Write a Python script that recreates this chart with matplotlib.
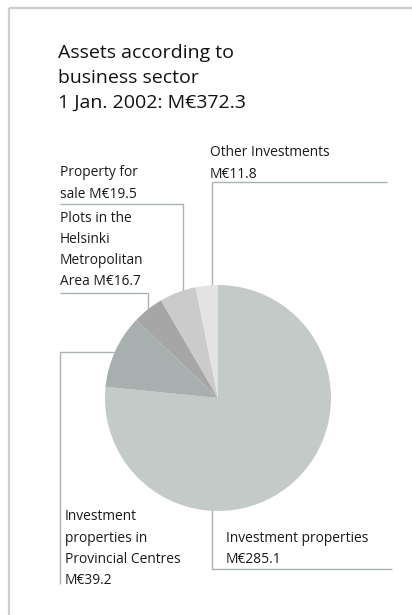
import matplotlib
matplotlib.use("Agg")
import matplotlib.pyplot as plt

# Asset breakdown by business sector, M€
sectors = [
    "Investment properties",
    "Investment properties in Provincial Centres",
    "Plots in the Helsinki Metropolitan Area",
    "Property for sale",
    "Other Investments",
]
values = [285.1, 39.2, 16.7, 19.5, 11.8]
colors = ["#c3cac8", "#a7b0af", "#a6a6a6", "#cbcbcb", "#e3e3e3"]
label_lines = [
    ["Investment properties", "M€285.1"],
    ["Investment", "properties in", "Provincial Centres", "M€39.2"],
    ["Plots in the", "Helsinki", "Metropolitan", "Area M€16.7"],
    ["Property for", "sale M€19.5"],
    ["Other Investments", "M€11.8"],
]
title_lines = ["Assets according to", "business sector", "1 Jan. 2002: M€372.3"]

W, H = 412, 615
fig = plt.figure(figsize=(W / 100, H / 100), dpi=100)
ax = fig.add_axes([0, 0, 1, 1])
ax.set_xlim(0, W)
ax.set_ylim(0, H)
ax.axis("off")

def Y(py):
    return H - py

FONT = "Open Sans"
frame_c = "#c9d0cf"
lead_c = "#a9b4b2"

# frame (top and left edges)
ax.plot([9.5, W], [Y(7.5), Y(7.5)], color=frame_c, lw=1.6, solid_capstyle="butt")
ax.plot([9.5, 9.5], [Y(7.5), Y(H)], color=frame_c, lw=1.6, solid_capstyle="butt")

# title
for i, t in enumerate(title_lines):
    ax.text(58, Y(53 + i * 25), t, fontsize=14, family=FONT, color="#111111",
            va="center", ha="left")

# pie
ax.pie(values, colors=colors, startangle=90, counterclock=False,
       center=(218, Y(398)), radius=113, frame=False,
       wedgeprops=dict(linewidth=0, zorder=3))
ax.set_xlim(0, W)
ax.set_ylim(0, H)
ax.set_aspect("auto")

# leader lines
def leader(xs, ys):
    ax.plot(xs, [Y(v) for v in ys], color=lead_c, lw=1.0, zorder=1,
            solid_capstyle="butt")

leader([387, 212, 212], [182, 182, 300])          # Other Investments
leader([60, 183, 183], [204, 204, 310])           # Property for sale
leader([60, 148, 148], [293, 293, 315])           # Plots
leader([130, 60, 60], [352, 352, 584])            # Provincial Centres
leader([212, 212, 392], [500, 569, 569])          # Investment properties

# labels
lh = 21.3
label_pos = [(226, 538), (65, 517), (60, 218), (60, 173), (210, 153)]
for lines, (lx, ly) in zip(label_lines, label_pos):
    for j, t in enumerate(lines):
        ax.text(lx, Y(ly + j * lh), t, fontsize=9.9, family=FONT,
                color="#1a1a1a", va="center", ha="left", zorder=4)

fig.savefig("out.png", dpi=100, facecolor="white")
